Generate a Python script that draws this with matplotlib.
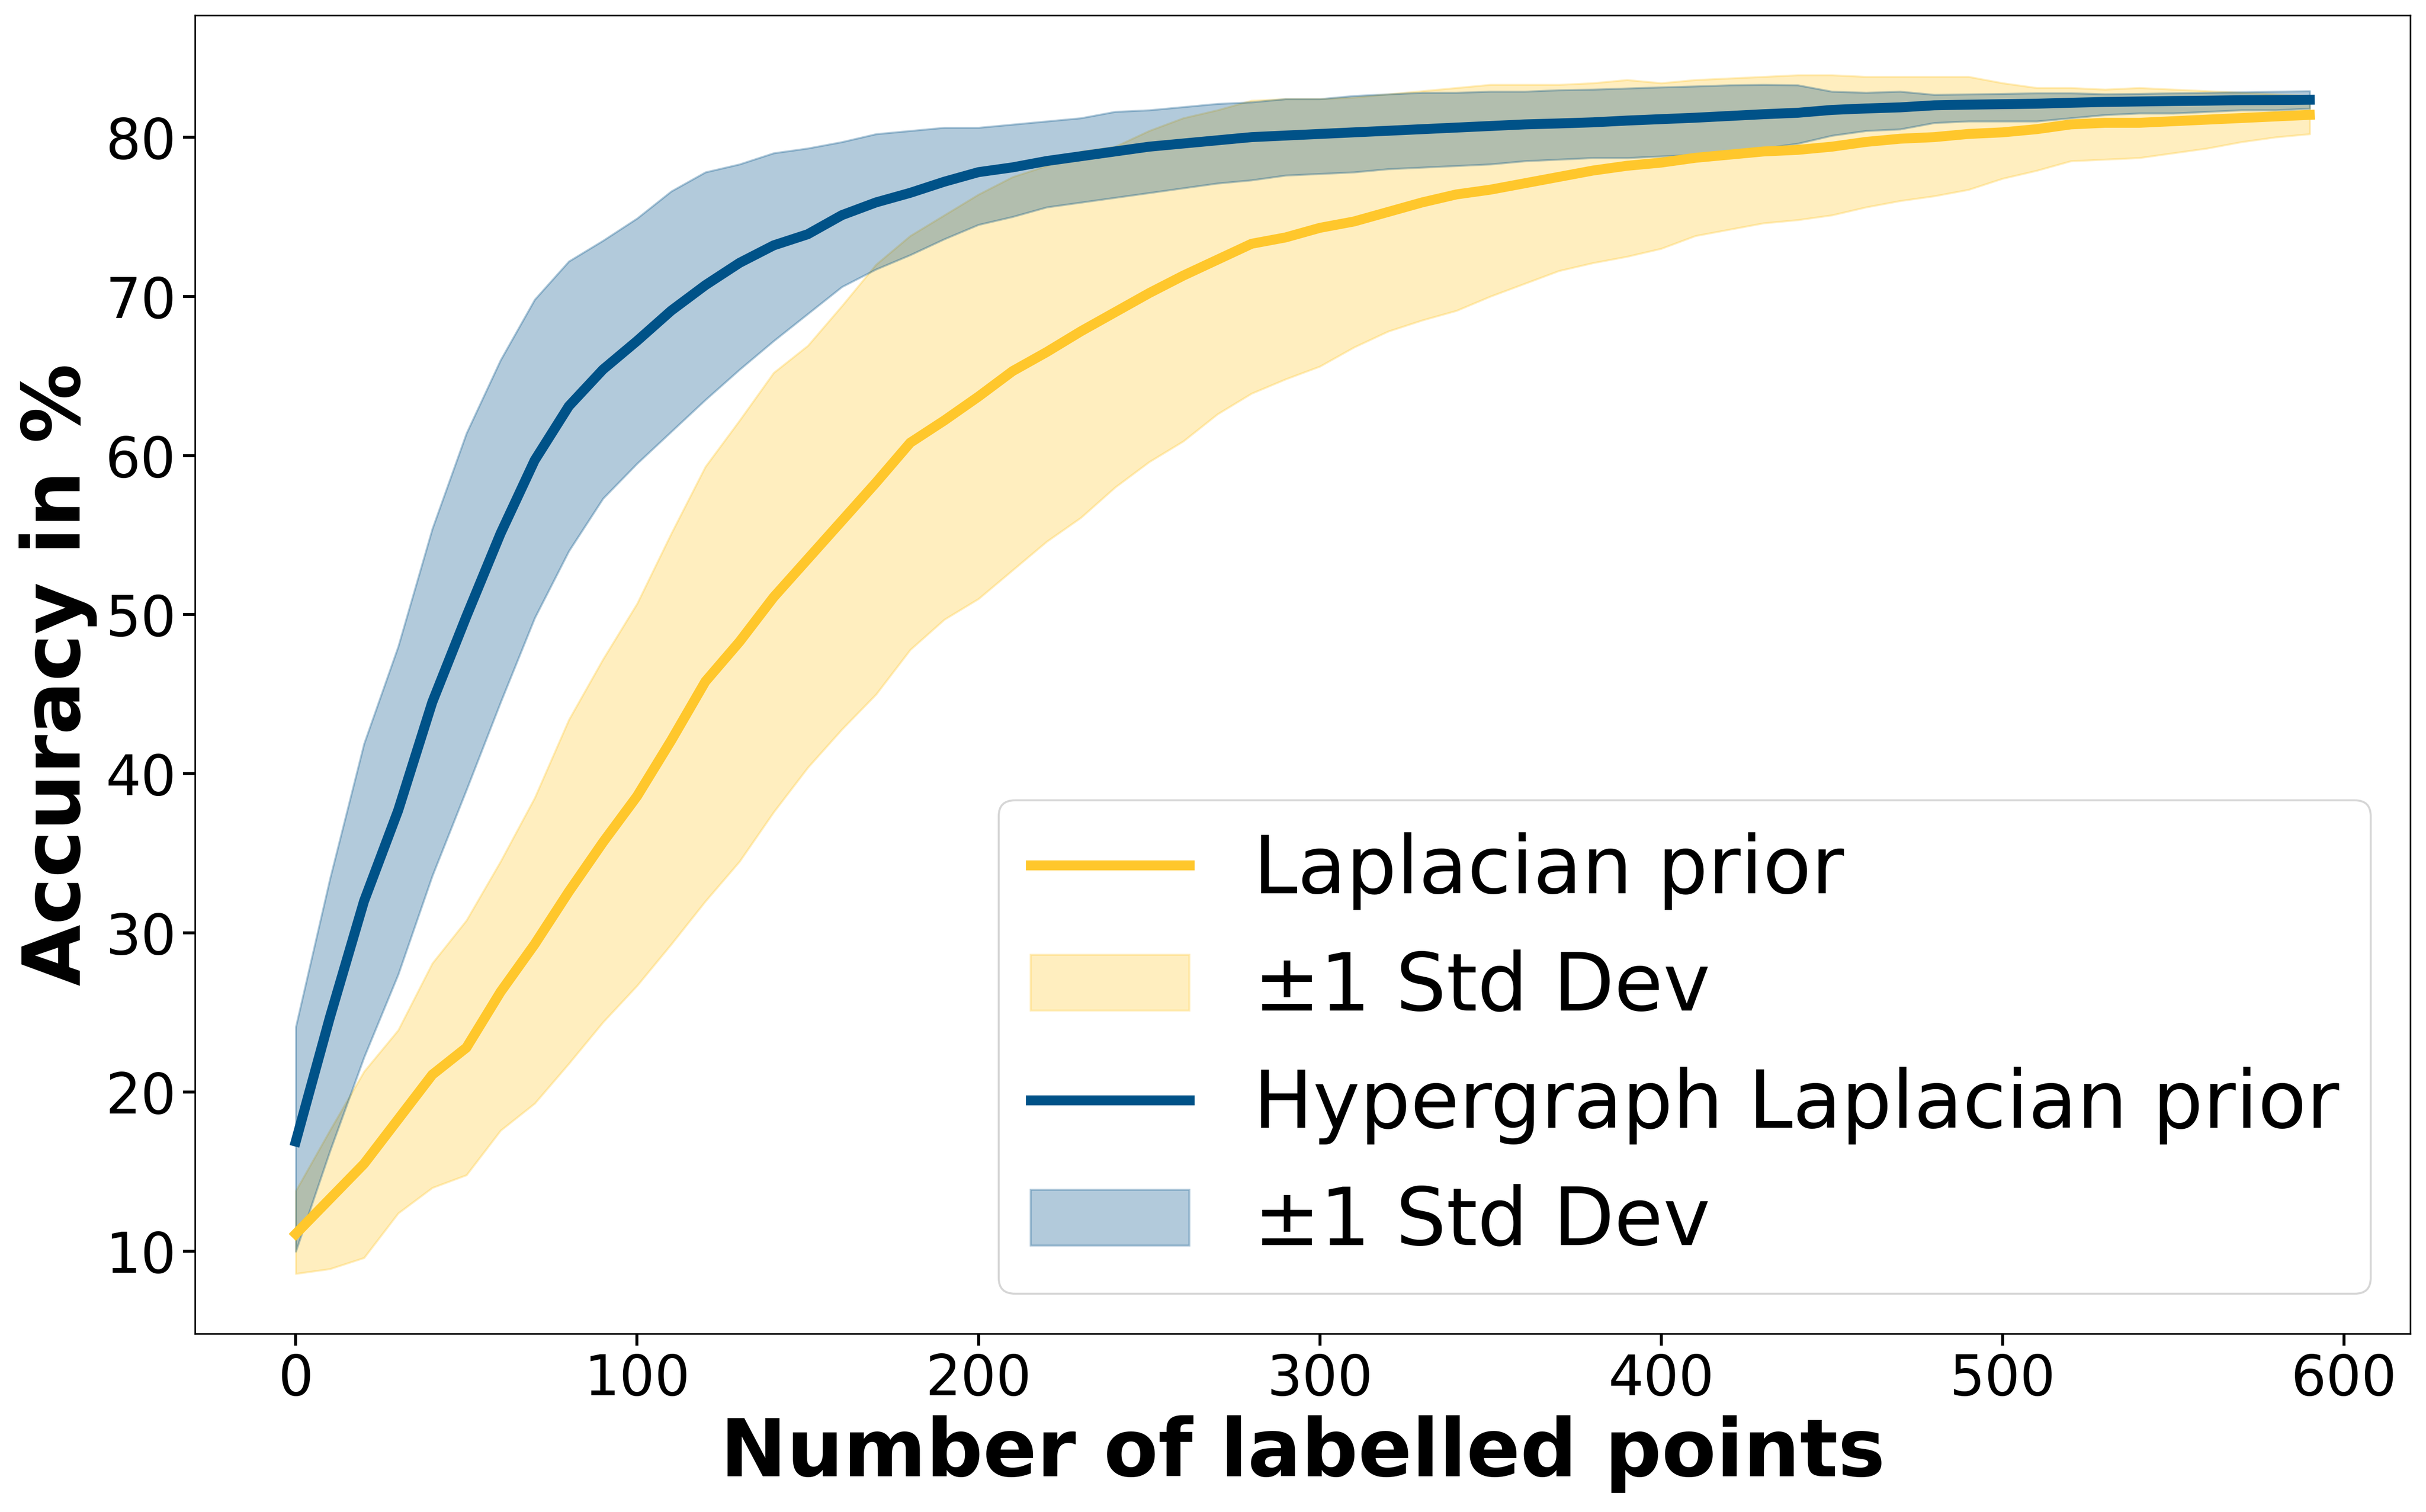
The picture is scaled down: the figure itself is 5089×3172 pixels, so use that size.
import matplotlib
matplotlib.use("Agg")
import matplotlib.pyplot as plt
import numpy as np

# number of labelled points
n_labels = list(range(0, 600, 10))

# Laplacian prior: mean and +-1 std band
lap_mean = [11.1, 13.3, 15.5, 18.3, 21.1, 22.8, 26.3, 29.3, 32.6, 35.7,
            38.6, 42.1, 45.8, 48.3, 51.1, 53.5, 55.9, 58.3, 60.8, 62.2,
            63.7, 65.3, 66.5, 67.8, 69.0, 70.2, 71.3, 72.3, 73.3, 73.7,
            74.3, 74.7, 75.3, 75.9, 76.4, 76.7, 77.1, 77.5, 77.9, 78.2,
            78.4, 78.7, 78.9, 79.1, 79.2, 79.4, 79.7, 79.9, 80.0, 80.2,
            80.3, 80.5, 80.8, 80.9, 80.9, 81.0, 81.1, 81.2, 81.3, 81.4]
lap_upper = [13.8, 17.6, 21.3, 23.9, 28.1, 30.8, 34.5, 38.5, 43.4, 47.2,
             50.7, 55.1, 59.3, 62.2, 65.2, 66.9, 69.4, 72.0, 73.8, 75.1,
             76.4, 77.5, 78.2, 79.1, 79.4, 80.4, 81.2, 81.7, 82.3, 82.4,
             82.4, 82.5, 82.7, 82.9, 83.1, 83.3, 83.3, 83.3, 83.4, 83.6,
             83.4, 83.6, 83.7, 83.8, 83.9, 83.9, 83.8, 83.8, 83.8, 83.8,
             83.4, 83.1, 83.1, 83.0, 83.1, 83.0, 82.9, 82.8, 82.7, 82.6]
lap_lower = [8.6, 8.9, 9.6, 12.4, 14.0, 14.8, 17.6, 19.3, 21.8, 24.4,
             26.7, 29.3, 32.0, 34.5, 37.6, 40.4, 42.8, 45.0, 47.8, 49.7,
             51.0, 52.8, 54.6, 56.1, 58.0, 59.6, 60.9, 62.6, 63.9, 64.8,
             65.6, 66.8, 67.8, 68.5, 69.1, 70.0, 70.8, 71.6, 72.1, 72.5,
             73.0, 73.8, 74.2, 74.6, 74.8, 75.1, 75.6, 76.0, 76.3, 76.7,
             77.4, 77.9, 78.5, 78.6, 78.7, 79.0, 79.3, 79.7, 80.0, 80.2]

# Hypergraph Laplacian prior: mean and +-1 std band
hyp_mean = [16.9, 24.7, 32.0, 37.7, 44.5, 49.9, 55.1, 59.7, 63.1, 65.4,
            67.2, 69.1, 70.7, 72.1, 73.2, 73.9, 75.1, 75.9, 76.5, 77.2,
            77.8, 78.1, 78.5, 78.8, 79.1, 79.4, 79.6, 79.8, 80.0, 80.1,
            80.2, 80.3, 80.4, 80.5, 80.6, 80.7, 80.8, 80.86, 80.93, 81.04,
            81.13, 81.22, 81.33, 81.44, 81.53, 81.71, 81.8, 81.87, 82.0, 82.04,
            82.07, 82.1, 82.16, 82.21, 82.24, 82.27, 82.29, 82.32, 82.33, 82.35]
hyp_upper = [24.1, 33.4, 41.9, 48.0, 55.4, 61.4, 66.0, 69.8, 72.2, 73.5,
             74.9, 76.6, 77.8, 78.3, 79.0, 79.3, 79.7, 80.2, 80.4, 80.6,
             80.6, 80.8, 81.0, 81.2, 81.6, 81.7, 81.9, 82.1, 82.2, 82.4,
             82.4, 82.6, 82.7, 82.8, 82.8, 82.87, 82.87, 82.96, 83.0, 83.07,
             83.14, 83.2, 83.27, 83.3, 83.27, 82.87, 82.8, 82.87, 82.67, 82.7,
             82.73, 82.77, 82.77, 82.71, 82.73, 82.77, 82.8, 82.83, 82.87, 82.9]
hyp_lower = [10.0, 16.3, 22.2, 27.4, 33.6, 39.0, 44.5, 49.8, 54.0, 57.3,
             59.5, 61.5, 63.5, 65.4, 67.2, 68.9, 70.6, 71.7, 72.6, 73.6,
             74.5, 75.0, 75.6, 75.9, 76.2, 76.5, 76.8, 77.1, 77.3, 77.6,
             77.7, 77.8, 78.0, 78.1, 78.2, 78.3, 78.5, 78.6, 78.7, 78.7,
             78.8, 78.9, 79.1, 79.3, 79.6, 80.1, 80.4, 80.5, 80.9, 81.0,
             81.0, 81.0, 81.2, 81.4, 81.5, 81.5, 81.6, 81.7, 81.7, 81.8]

yellow = '#FFC72C'
blue = '#005288'

fig = plt.figure(figsize=(5089/300, 3172/300), dpi=300)
ax = fig.add_axes([0.0804, 0.118, 0.9132, 0.872])

ax.plot(n_labels, lap_mean, color=yellow, lw=5, label='Laplacian prior')
ax.fill_between(n_labels, lap_lower, lap_upper, color=yellow, alpha=0.3,
                label=r'$\pm$1 Std Dev')
ax.plot(n_labels, hyp_mean, color=blue, lw=5, label='Hypergraph Laplacian prior')
ax.fill_between(n_labels, hyp_lower, hyp_upper, color=blue, alpha=0.3,
                label=r'$\pm$1 Std Dev')

ax.set_xlabel('Number of labelled points', fontsize=40, fontweight='bold')
ax.set_ylabel('Accuracy in %', fontsize=40, fontweight='bold')
ax.tick_params(axis='both', labelsize=28, length=6, width=1.5)
ax.set_xticks([0, 100, 200, 300, 400, 500, 600])

ax.legend(loc='lower right', fontsize=40)

fig.savefig('out.png', dpi=300)
